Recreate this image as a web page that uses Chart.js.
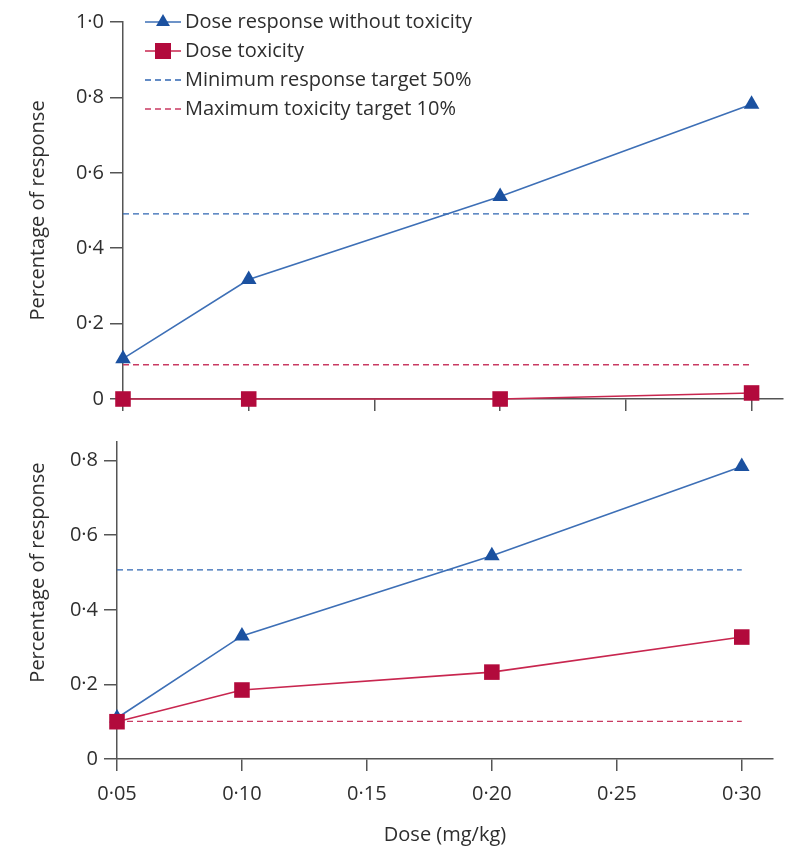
<!DOCTYPE html>
<html>
<head>
<meta charset="utf-8">
<script src="https://cdn.jsdelivr.net/npm/chart.js@4"></script>
<style>
  html, body { margin: 0; padding: 0; background: #fff; }
  #wrap { position: relative; width: 794px; height: 847px; }
  .panel { position: absolute; left: 0; width: 794px; }
  #topPanel { top: 0; height: 420px; }
  #bottomPanel { top: 420px; height: 427px; }
</style>
</head>
<body>
<div id="wrap">
  <div class="panel" id="topPanel"><canvas id="chartTop"></canvas></div>
  <div class="panel" id="bottomPanel"><canvas id="chartBottom"></canvas></div>
</div>
<script>
// Dose levels (mg/kg) and observed proportions
const doses = [0.05, 0.10, 0.20, 0.30];
const topResponse = [0.107, 0.317, 0.537, 0.782];
const topToxicity = [0, 0, 0, 0.016];
const bottomResponse = [0.11, 0.33, 0.545, 0.784];
const bottomToxicity = [0.10, 0.185, 0.233, 0.327];

// Target reference lines, spanning the dose range
const targetDoseRange = [0.05, 0.30];
const topResponseTarget = 0.491;
const topToxicityTarget = 0.091;
const bottomResponseTarget = 0.507;
const bottomToxicityTarget = 0.101;

// Axis ticks
const doseTicks = [0.05, 0.10, 0.15, 0.20, 0.25, 0.30];
const topResponseTicks = [0, 0.2, 0.4, 0.6, 0.8, 1.0];
const bottomResponseTicks = [0, 0.2, 0.4, 0.6, 0.8];

const seriesLabels = [
  'Dose response without toxicity',
  'Dose toxicity',
  'Minimum response target 50%',
  'Maximum toxicity target 10%'
];

const FONT = '"Open Sans", Lato, sans-serif';
const FONT_SIZE = 20;
const TEXT = '#2e2e2e';
const AXIS = '#555555';
const BLUE_LINE = '#3d6fb6';
const BLUE_MARK = '#1b51a0';
const RED_LINE = '#c8264f';
const RED_MARK = '#b20a3c';

const midDot = (v, digits) => v === 0 ? '0' : v.toFixed(digits).replace('.', '\u00B7');
const pts = (xs, ys) => xs.map((x, i) => ({ x, y: ys[i] }));
const flat = (xs, y) => xs.map(x => ({ x, y }));

// Rotated y-axis title centred on a data value
const sideTitle = {
  id: 'sideTitle',
  afterDraw(chart, args, opts) {
    const { ctx } = chart;
    const y = chart.scales.y.getPixelForValue(opts.center);
    ctx.save();
    ctx.translate(opts.x, y);
    ctx.rotate(-Math.PI / 2);
    ctx.font = FONT_SIZE + 'px ' + FONT;
    ctx.fillStyle = TEXT;
    ctx.textAlign = 'center';
    ctx.textBaseline = 'middle';
    ctx.fillText(opts.text, 0, 0);
    ctx.restore();
  }
};

// Legend drawn inside the plot area, top-left
const insideLegend = {
  id: 'insideLegend',
  afterDraw(chart, args, opts) {
    if (!opts.show) return;
    const { ctx, chartArea } = chart;
    const x0 = chartArea.left + opts.offsetX;
    let y = chartArea.top + opts.offsetY;
    chart.data.datasets.forEach(ds => {
      ctx.save();
      ctx.strokeStyle = ds.borderColor;
      ctx.lineWidth = ds.borderWidth;
      ctx.setLineDash(ds.borderDash || []);
      ctx.beginPath();
      ctx.moveTo(x0, y);
      ctx.lineTo(x0 + 36, y);
      ctx.stroke();
      ctx.setLineDash([]);
      const cx = x0 + 18;
      if (ds.pointStyle === 'triangle') {
        const r = 8;
        ctx.fillStyle = ds.pointBackgroundColor;
        ctx.beginPath();
        ctx.moveTo(cx, y - r);
        ctx.lineTo(cx + r * 0.866, y + r / 2);
        ctx.lineTo(cx - r * 0.866, y + r / 2);
        ctx.closePath();
        ctx.fill();
      } else if (ds.pointStyle === 'rect') {
        ctx.fillStyle = ds.pointBackgroundColor;
        ctx.fillRect(cx - 8, y - 8, 16, 16);
      }
      ctx.font = FONT_SIZE + 'px ' + FONT;
      ctx.fillStyle = TEXT;
      ctx.textAlign = 'left';
      ctx.textBaseline = 'middle';
      ctx.fillText(ds.label, x0 + 40, y);
      ctx.restore();
      y += opts.rowGap;
    });
  }
};

function makeChart(canvasId, cfg) {
  const datasets = [
    {
      label: seriesLabels[0], data: pts(doses, cfg.response),
      borderColor: BLUE_LINE, borderWidth: 1.6, pointStyle: 'triangle',
      pointRadius: 9, pointBackgroundColor: BLUE_MARK, pointBorderColor: BLUE_MARK,
      pointBorderWidth: 0, showLine: true, clip: false, order: 2
    },
    {
      label: seriesLabels[1], data: pts(doses, cfg.toxicity),
      borderColor: RED_LINE, borderWidth: 1.6, pointStyle: 'rect',
      pointRadius: 11, pointBackgroundColor: RED_MARK, pointBorderColor: RED_MARK,
      pointBorderWidth: 0, showLine: true, clip: false, order: 1
    },
    {
      label: seriesLabels[2], data: flat(targetDoseRange, cfg.responseTarget),
      borderColor: '#2f66b2', borderWidth: 1.4, borderDash: [6, 4],
      pointRadius: 0, showLine: true, clip: false, order: 3
    },
    {
      label: seriesLabels[3], data: flat(targetDoseRange, cfg.toxicityTarget),
      borderColor: '#c93a62', borderWidth: 1.4, borderDash: [6, 4],
      pointRadius: 0, showLine: true, clip: false, order: 3
    }
  ];

  return new Chart(document.getElementById(canvasId), {
    type: 'scatter',
    data: { datasets },
    plugins: [sideTitle, insideLegend],
    options: {
      responsive: true,
      maintainAspectRatio: false,
      animation: false,
      events: [],
      layout: { padding: { top: cfg.padTop, right: cfg.padRight, left: 0, bottom: 0 } },
      plugins: {
        legend: { display: false },
        tooltip: { enabled: false },
        sideTitle: { text: 'Percentage of response', center: 0.5, x: 38 },
        insideLegend: { show: cfg.legend, offsetX: 22, offsetY: 0, rowGap: 29 }
      },
      scales: {
        x: {
          type: 'linear', min: 0.05, max: 0.3125,
          afterBuildTicks: s => { s.ticks = doseTicks.map(v => ({ value: v })); },
          afterFit: s => { s.height = cfg.xHeight; },
          border: { display: true, color: AXIS, width: 1.5 },
          grid: { display: true, drawOnChartArea: false, drawTicks: true, tickLength: 12, color: AXIS, lineWidth: 1.5 },
          ticks: {
            display: cfg.xLabels, padding: 11, color: TEXT,
            font: { family: FONT, size: FONT_SIZE },
            maxRotation: 0, autoSkip: false,
            callback: v => midDot(v, 2)
          },
          title: {
            display: cfg.xLabels, text: 'Dose (mg/kg)', color: TEXT,
            font: { family: FONT, size: FONT_SIZE }, padding: { top: 20, bottom: 0 }
          }
        },
        y: {
          type: 'linear', min: 0, max: cfg.yMax,
          afterBuildTicks: s => { s.ticks = cfg.yTicks.map(v => ({ value: v })); },
          afterFit: s => { s.width = cfg.yWidth; },
          border: { display: true, color: AXIS, width: 1.5 },
          grid: { display: true, drawOnChartArea: false, drawTicks: true, tickLength: 13, color: AXIS, lineWidth: 1.5 },
          ticks: {
            padding: 6, color: TEXT,
            font: { family: FONT, size: FONT_SIZE },
            callback: v => midDot(v, 1)
          }
        }
      }
    }
  });
}

makeChart('chartTop', {
  response: topResponse, toxicity: topToxicity,
  responseTarget: topResponseTarget, toxicityTarget: topToxicityTarget,
  yMax: 1.0, yTicks: topResponseTicks, legend: true, xLabels: false,
  padTop: 22, padRight: 11, xHeight: 21, yWidth: 123
});

makeChart('chartBottom', {
  response: bottomResponse, toxicity: bottomToxicity,
  responseTarget: bottomResponseTarget, toxicityTarget: bottomToxicityTarget,
  yMax: 0.85, yTicks: bottomResponseTicks, legend: false, xLabels: true,
  padTop: 22, padRight: 21, xHeight: 88, yWidth: 117
});
</script>
</body>
</html>
